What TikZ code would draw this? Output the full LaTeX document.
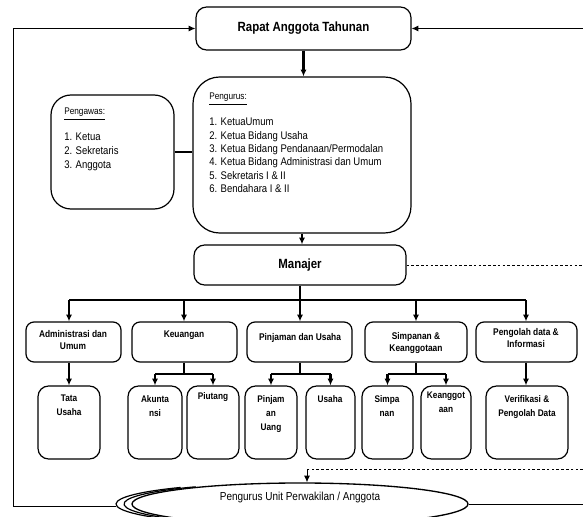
\documentclass[tikz,border=0pt]{standalone}
\usepackage{fontspec}
\setmainfont{Liberation Sans}[FakeStretch=0.86]
\usetikzlibrary{arrows.meta,fit,shapes.geometric}
\begin{document}
\begin{tikzpicture}[x=0.75pt,y=-0.75pt,
  box/.style={draw, line width=0.9pt, inner sep=0pt},
  conn/.style={line width=1.6pt},
  arr/.style={-{Latex[length=5pt,width=4.5pt]}},
  thinline/.style={line width=0.7pt},
  dashline/.style={line width=0.7pt, dash pattern=on 2pt off 1.6pt},
  lvltwo/.style={font=\fontsize{7.3}{9}\selectfont\bfseries, align=center, inner sep=0pt},
  lvlthree/.style={font=\fontsize{7.2}{10.5}\selectfont\bfseries, align=center, inner sep=0pt, anchor=north},
  listtext/.style={font=\fontsize{8.3}{10}\selectfont, align=left, inner sep=0pt, anchor=north west},
  headtext/.style={font=\fontsize{7.2}{8}\selectfont, inner sep=0pt, anchor=west}
]
\useasboundingbox (0,0) rectangle (583,517);
\clip (0,0) rectangle (583,517);

% top boxes
\node[box, rounded corners=8pt, fit={(196,7)(411,50)}] (rat) {};
\node[font=\fontsize{10}{12}\selectfont\bfseries] (tRat) at (rat.center) {Rapat Anggota Tahunan};

\node[box, rounded corners=20pt, fit={(193,77)(411,233)}] (pengurus) {};
\node[headtext] (hPengurus) at (209,99) {\underline{Pengurus:}};
\node[listtext] (lPengurus) at (209,118) {1. KetuaUmum\\2. Ketua Bidang Usaha\\3. Ketua Bidang Pendanaan/Permodalan\\4. Ketua Bidang Administrasi dan Umum\\5. Sekretaris I \& II\\6. Bendahara I \& II};

\node[box, rounded corners=15pt, fit={(51,95)(174,209)}] (pengawas) {};
\node[headtext] (hPengawas) at (64,114) {\underline{Pengawas:}};
\node[listtext, font=\fontsize{8.3}{10.5}\selectfont] (lPengawas) at (64,133) {1. Ketua\\2. Sekretaris\\3. Anggota};

\node[box, rounded corners=8pt, fit={(194,245)(406,285)}] (manajer) {};
\node[font=\fontsize{10}{12}\selectfont\bfseries] (tManajer) at (manajer.center) {Manajer};

% level 2
\node[box, rounded corners=6pt, fit={(26,322)(121,362)}] (adm) {};
\node[box, rounded corners=6pt, fit={(132,322)(237,362)}] (keu) {};
\node[box, rounded corners=6pt, fit={(247,322)(352,362)}] (pin) {};
\node[box, rounded corners=6pt, fit={(365,322)(467,362)}] (sim) {};
\node[box, rounded corners=6pt, fit={(476,322)(577,362)}] (peng) {};
\node[lvltwo] (tAdm) at (73,340) {Administrasi dan\\Umum};
\node[lvltwo] (tKeu) at (184,335) {Keuangan};
\node[lvltwo] (tPin) at (300,338) {Pinjaman dan Usaha};
\node[lvltwo] (tSim) at (416,343) {Simpanan \&\\Keanggotaan};
\node[lvltwo] (tPeng) at (526,338) {Pengolah data \&\\Informasi};

% level 3
\node[box, rounded corners=8pt, fit={(38,386)(100,459)}] (tata) {};
\node[box, rounded corners=8pt, fit={(128,386)(182,459)}] (akun) {};
\node[box, rounded corners=8pt, fit={(187,386)(239,459)}] (piut) {};
\node[box, rounded corners=8pt, fit={(245,386)(297,459)}] (pinj) {};
\node[box, rounded corners=8pt, fit={(306,386)(355,459)}] (usaha) {};
\node[box, rounded corners=8pt, fit={(362,386)(413,459)}] (simpa) {};
\node[box, rounded corners=8pt, fit={(421,386)(471,459)}] (keang) {};
\node[box, rounded corners=8pt, fit={(486,386)(568,459)}] (veri) {};
\node[lvlthree] (tTata) at (69,395) {Tata\\Usaha};
\node[lvlthree] (tAkun) at (155,395) {Akunta\\nsi};
\node[lvlthree] (tPiut) at (213,392) {Piutang};
\node[lvlthree] (tPinj) at (271,395) {Pinjam\\an\\Uang};
\node[lvlthree] (tUsaha) at (330,395) {Usaha};
\node[lvlthree] (tSimpa) at (387,395) {Simpa\\nan};
\node[lvlthree] (tKeang) at (446,392) {Keanggot\\aan};
\node[lvlthree] (tVeri) at (527,395) {Verifikasi \&\\Pengolah Data};

% bottom ellipse
\draw[line width=0.9pt] (292,504) ++(125:168 and 21) arc[start angle=125, end angle=235, x radius=168, y radius=21];
\draw[line width=0.9pt] (284,504) ++(128:168 and 21) arc[start angle=128, end angle=232, x radius=168, y radius=21];
\node[ellipse, draw, line width=1pt, fill=white, minimum width=252pt, minimum height=31.5pt, inner sep=0pt] (pu) at (300,504) {};
\node[font=\fontsize{8.7}{10}\selectfont] (tPu) at (300,498) {Pengurus Unit Perwakilan / Anggota};

% coordinates
\coordinate (loopT) at (13,28.5);
\coordinate (loopB) at (13,506);
\coordinate (arcL) at (116,506);
\coordinate (topR) at (583,28.5);
\coordinate (rightE) at (583,504);
\coordinate (dashR1) at (583,265);
\coordinate (dashR2) at (583,469);
\coordinate (dashL2) at (307,469);
\coordinate (busL) at (69,300);
\coordinate (busR) at (526,300);
\coordinate (keuB) at (184,374);
\coordinate (pinB) at (300,374);
\coordinate (simB) at (416,374);

% loop lines
\draw[thinline, arr] (arcL) -- (loopB) -- (loopT) -- (rat.west);
\draw[thinline, arr] (topR) -- (rat.east);
\draw[thinline] (pu.east) -- (rightE);

% main chain
\draw[conn, arr] (rat.south) -- (rat.south |- pengurus.north);
\draw[conn] (pengawas.east) -- (pengawas.east -| pengurus.west);
\draw[conn, arr] (pengurus.south) -- (pengurus.south |- manajer.north);
\draw[dashline] (manajer.east) -- (dashR1);

% bus to level 2
\draw[conn, arr] (manajer.south) -- (manajer.south |- pin.north);
\draw[conn] (busL) -- (busR);
\draw[conn, arr] (busL) -- (busL |- adm.north);
\draw[conn, arr] (busL -| tKeu) -- (tKeu |- keu.north);
\draw[conn, arr] (busL -| tSim) -- (tSim |- sim.north);
\draw[conn, arr] (busR) -- (busR |- peng.north);

% level 2 to level 3
\draw[conn, arr] (busL |- adm.south) -- (busL |- tata.north);
\draw[conn] (keuB |- keu.south) -- (keuB);
\draw[conn, arr] (keuB -| akun.north) -- (akun.north);
\draw[conn] (keuB -| akun.north) -- (keuB -| piut.north);
\draw[conn, arr] (keuB -| piut.north) -- (piut.north);
\draw[conn] (pinB |- pin.south) -- (pinB);
\draw[conn, arr] (pinB -| pinj.north) -- (pinj.north);
\draw[conn] (pinB -| pinj.north) -- (pinB -| usaha.north);
\draw[conn, arr] (pinB -| usaha.north) -- (usaha.north);
\draw[conn] (simB |- sim.south) -- (simB);
\draw[conn, arr] (simB -| simpa.north) -- (simpa.north);
\draw[conn] (simB -| simpa.north) -- (simB -| keang.north);
\draw[conn, arr] (simB -| keang.north) -- (keang.north);
\draw[conn, arr] (busR |- peng.south) -- (busR |- veri.north);

% lower dashed
\draw[dashline] (dashR2) -- (dashL2);
\draw[thinline, arr] (dashL2) -- (dashL2 |- pu.north);
\end{tikzpicture}
\end{document}
